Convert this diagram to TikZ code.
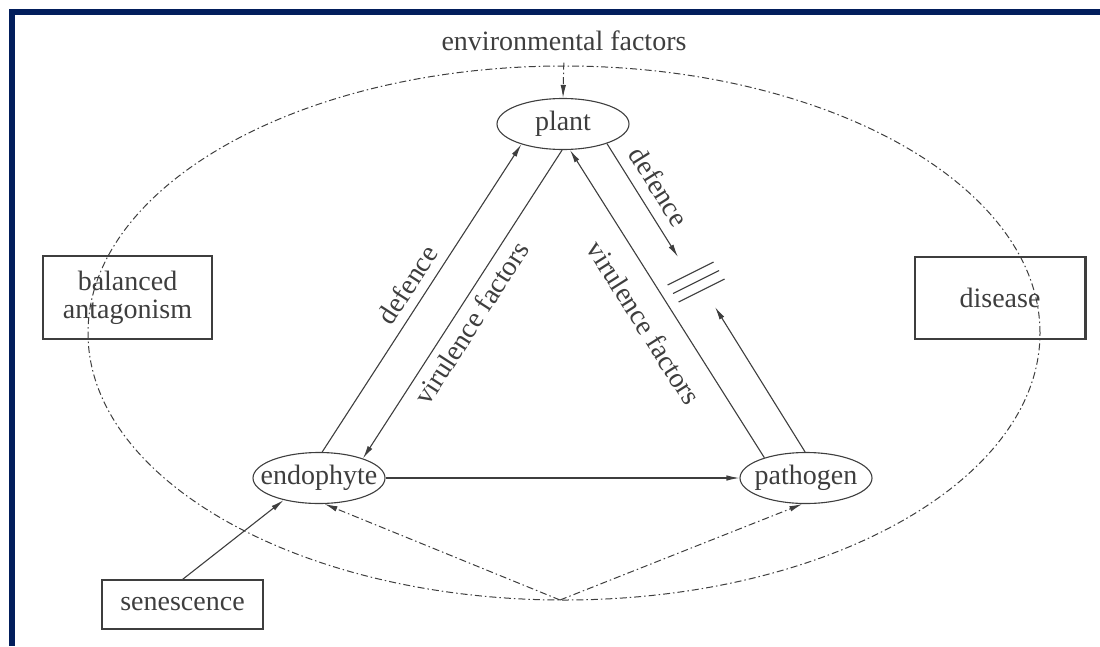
\documentclass[tikz,border=0pt]{standalone}
\usepackage{amsmath}
\usepackage{fontspec}
\setmainfont{Liberation Serif}
\usepackage{tikz}
\usetikzlibrary{calc}
\usetikzlibrary{arrows.meta}
\usetikzlibrary{shapes.geometric}

\definecolor{framenavy}{RGB}{2,30,92}
\definecolor{ink}{RGB}{62,62,62}

\tikzset{
  organism/.style={draw=ink, line width=1.1pt, ellipse, minimum width=132pt,
    minimum height=51pt, inner xsep=-14pt, inner ysep=0pt},
  outcome/.style={draw=ink, line width=1.1pt, rectangle, align=center, inner sep=0pt},
  link/.style={draw=ink, line width=1.1pt, -{Latex[length=13pt,width=5.5pt]}},
  cue/.style={link, line width=1pt, dash pattern=on 7pt off 3pt on 1.5pt off 3pt},
  lbl/.style={sloped, inner sep=3pt}
}

\begin{document}
\begin{tikzpicture}[x=1pt, y=-1pt, font=\fontsize{28}{28}\selectfont, text=ink]
    \useasboundingbox (0,0) rectangle (1100,646);
    \fill[framenavy] (9,9) rectangle (1100,15);
    \fill[framenavy] (9,9) rectangle (15,646);

    \draw[ink, line width=1pt, dash pattern=on 7pt off 3pt on 1.5pt off 3pt]
      (564,333) ellipse [x radius=476pt, y radius=267pt];

    \node (env) at (564,41) {environmental factors};
    \node[organism] (plant) at (563,124) {plant};
    \node[organism] (endo) at (319,478) {endophyte};
    \node[organism] (patho) at (806,478) {pathogen};
    \node[outcome, minimum width=169pt, minimum height=83pt] (balance) at (127.5,297.5) {balanced\\antagonism};
    \node[outcome, minimum width=170pt, minimum height=82pt] (disease) at (1000,298) {disease};
    \node[outcome, minimum width=161pt, minimum height=49pt] (senes) at (182.5,604.5) {senescence};
    \draw[ink, line width=2.4pt] (disease.north east) -- (disease.south east);

    \coordinate (hatch) at (696,282);
    \coordinate (blocktop) at (678,257);
    \coordinate (blockbot) at (715,307);
    \coordinate (apex) at (560,600);

    \foreach \k in {-1,0,1}
      \draw[ink, line width=1.1pt] ($(hatch)+(5.5*\k,8.5*\k)+(-23,11.5)$) -- ++(46,-23);

    \draw[link] (endo.83) -- node[lbl, above=6pt, pos=0.51] {defence} (plant.206);
    \draw[link] (plant.268) -- node[lbl, below=4pt, pos=0.53] {virulence factors} (endo.24);
    \draw[link] (patho.154) -- node[lbl, below=16pt, pos=0.49] {virulence factors} (plant.285);
    \draw[link] (plant.336) -- node[lbl, above=8pt, pos=0.48] {defence} (blocktop);
    \draw[link] (patho.92) -- (blockbot);
    \draw[link] (endo.east) -- (patho.west);
    \draw[link] (senes.north) -- (endo.212);

    \draw[cue, shorten <=8pt] (env.south) -- (plant.north);
    \draw[cue] (apex) -- (endo.282);
    \draw[cue] (apex) -- (patho.262);
\end{tikzpicture}
\end{document}
